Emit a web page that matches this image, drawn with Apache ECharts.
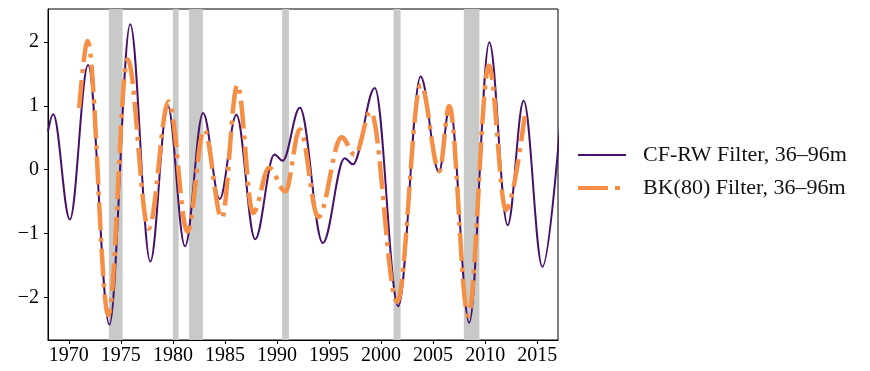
<!DOCTYPE html>
<html>
<head>
<meta charset="utf-8">
<script src="https://cdn.jsdelivr.net/npm/echarts@6/dist/echarts.min.js"></script>
<style>html,body{margin:0;padding:0;background:#fff;}#c{width:870px;height:371px;}</style>
</head>
<body>
<div id="c"></div>
<script>
// CF-RW filter, 36–96m (turning points; last point lies just past the right edge)
const cfYears = [1968.0,1968.5,1970.1,1971.85,1973.9,1975.9,1977.83,1979.5,1981.16,1982.9,1984.5,1986.1,1987.9,1989.75,1990.55,1992.2,1994.4,1996.5,1997.3,1999.4,2001.65,2003.8,2005.56,2006.6,2008.47,2010.4,2012.16,2013.7,2015.5,2017.35];
const cfValues = [0.60,0.87,-0.78,1.64,-2.43,2.28,-1.44,1.01,-1.20,0.89,-0.46,0.86,-1.09,0.24,0.14,0.97,-1.15,0.18,0.085,1.28,-2.14,1.46,-0.04,1.0,-2.40,2.0,-0.87,1.08,-1.52,1.0];
// BK(80) filter, 36–96m
const bkYears = [1971.0,1971.8,1973.8,1975.65,1977.67,1979.6,1981.4,1983.0,1984.7,1986.2,1987.7,1989.25,1990.8,1992.2,1993.97,1996.2,1997.5,1999.0,2001.55,2003.83,2005.6,2006.55,2008.37,2010.36,2012.0,2013.8];
const bkValues = [0.97,2.02,-2.28,1.73,-0.92,1.07,-0.97,0.63,-0.76,1.33,-0.68,0.03,-0.34,0.63,-0.74,0.51,0.23,0.91,-2.07,1.33,-0.02,1.0,-2.29,1.63,-0.63,0.84];
// NBER recessions (shaded)
const recessionStart = [1973.85,1980.0,1981.55,1990.5,2001.2,2007.95];
const recessionEnd   = [1975.17,1980.55,1982.88,1991.15,2001.88,2009.45];
const xTicks = [1970,1975,1980,1985,1990,1995,2000,2005,2010,2015];
const yTicks = [-2,-1,0,1,2];
const seriesNames = ['CF-RW Filter, 36–96m','BK(80) Filter, 36–96m'];

const zip = (a,b) => a.map((v,i) => [v,b[i]]);
const FONT = 'Liberation Serif';
const PURPLE = '#47106b', ORANGE = '#f68f46';
const chart = echarts.init(document.getElementById('c'), null, {renderer:'canvas'});
const legendText = {fontFamily:FONT,fontSize:22,color:'#111'};
chart.setOption({
  animation:false,
  backgroundColor:'#fff',
  grid:{left:48,right:312,top:9,bottom:31,show:true,borderColor:'#000',borderWidth:1,backgroundColor:'transparent'},
  xAxis:{type:'value',min:1968,max:2017,
    axisLine:{show:true,onZero:false,lineStyle:{color:'#000',width:1}},
    axisTick:{show:true,customValues:xTicks,length:4,lineStyle:{color:'#000'}},
    axisLabel:{customValues:xTicks,color:'#000',fontFamily:FONT,fontSize:20,margin:6,formatter:v=>String(v)},
    splitLine:{show:false}},
  yAxis:{type:'value',min:-2.67,max:2.52,
    axisLine:{show:true,onZero:false,lineStyle:{color:'#000',width:1}},
    axisTick:{show:true,customValues:yTicks,length:4,lineStyle:{color:'#000'}},
    axisLabel:{customValues:yTicks,color:'#000',fontFamily:FONT,fontSize:20,margin:9,
      formatter:v => (v<0?'\u2212':'')+Math.abs(v)},
    splitLine:{show:false}},
  legend:[
    {orient:'vertical',left:578,top:144,padding:0,itemWidth:48,itemHeight:2,data:[{name:seriesNames[0],icon:'rect'}],
      itemStyle:{color:PURPLE},textStyle:Object.assign({padding:[0,0,0,12]},legendText)},
    {orient:'vertical',left:578,top:177,padding:0,itemWidth:42,itemHeight:4,
      data:[{name:seriesNames[1],icon:'path://M0,0H30V4H0ZM37,0H42V4H37Z'}],
      itemStyle:{color:ORANGE},textStyle:Object.assign({padding:[0,0,0,18]},legendText)}
  ],
  series:[
    {type:'line',name:'recessions',data:[],z:0,silent:true,
      markArea:{silent:true,itemStyle:{color:'#c8cac7',opacity:1},
        data:recessionStart.map((s,i)=>[{xAxis:s},{xAxis:recessionEnd[i]}])}},
    {type:'line',name:seriesNames[0],data:zip(cfYears,cfValues),smooth:0.36,smoothMonotone:'x',symbol:'none',z:3,clip:true,
      lineStyle:{color:PURPLE,width:2},itemStyle:{color:PURPLE}},
    {type:'line',name:seriesNames[1],data:zip(bkYears,bkValues),smooth:0.36,smoothMonotone:'x',symbol:'none',z:4,clip:true,
      lineStyle:{color:ORANGE,width:4.5,type:[28,7,4,7]},itemStyle:{color:ORANGE}}
  ]
});
</script>
</body>
</html>
